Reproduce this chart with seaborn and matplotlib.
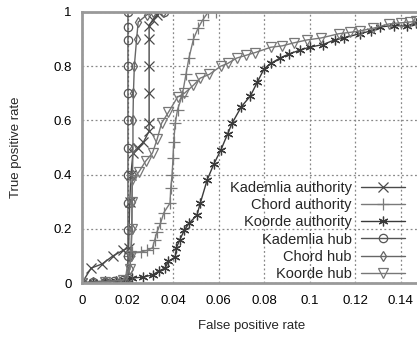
import numpy as np
import pandas as pd
import matplotlib
matplotlib.use("Agg")
import matplotlib.pyplot as plt
from matplotlib.ticker import MultipleLocator
import seaborn as sns

# data (false positive rate, true positive rate)
ka_x = [0.0, 0.004, 0.0088, 0.0136, 0.018, 0.0205, 0.021, 0.0215, 0.0224, 0.0246, 0.027, 0.0295, 0.0295,
        0.0295, 0.0295, 0.0295, 0.0295, 0.031, 0.033, 0.034]
ka_y = [0.0, 0.055, 0.07, 0.10, 0.12, 0.13, 0.30, 0.40, 0.48, 0.50, 0.52, 0.56, 0.59,
        0.70, 0.80, 0.90, 0.95, 0.97, 0.99, 1.0]

ca_x = [0.0, 0.01, 0.019, 0.0205, 0.022, 0.026, 0.0286, 0.031, 0.032, 0.033, 0.0345, 0.036, 0.0387, 0.039,
        0.0396, 0.040, 0.0403, 0.041, 0.042, 0.044, 0.0457, 0.047, 0.049, 0.051, 0.053, 0.0555, 0.059]
ca_y = [0.0, 0.003, 0.008, 0.10, 0.113, 0.115, 0.12, 0.13, 0.16, 0.19, 0.22, 0.26, 0.295, 0.35,
        0.40, 0.46, 0.52, 0.59, 0.64, 0.69, 0.77, 0.83, 0.90, 0.94, 0.97, 1.0, 1.0]

koa_x = [0.0, 0.005, 0.01, 0.015, 0.019, 0.022, 0.027, 0.031, 0.034, 0.0365, 0.038, 0.041, 0.0415, 0.043,
         0.045, 0.047, 0.0505, 0.052, 0.055, 0.058, 0.061, 0.064, 0.066, 0.070, 0.074, 0.077, 0.080, 0.083,
         0.087, 0.091, 0.096, 0.100, 0.106, 0.111, 0.115, 0.122, 0.127, 0.131, 0.137, 0.143, 0.147]
koa_y = [0.0, 0.005, 0.007, 0.008, 0.012, 0.018, 0.022, 0.03, 0.045, 0.055, 0.08, 0.096, 0.13, 0.16,
         0.195, 0.22, 0.25, 0.295, 0.38, 0.44, 0.49, 0.55, 0.59, 0.65, 0.69, 0.74, 0.79, 0.81,
         0.83, 0.845, 0.86, 0.87, 0.88, 0.897, 0.904, 0.92, 0.93, 0.945, 0.95, 0.948, 0.96]

kh_x = [0.0, 0.005, 0.01, 0.014, 0.018, 0.0202, 0.0202, 0.0202, 0.0202, 0.0202, 0.0202, 0.0202, 0.0202,
        0.0202, 0.0202, 0.0202, 0.0202, 0.036]
kh_y = [0.0, 0.003, 0.005, 0.008, 0.012, 0.02, 0.1, 0.195, 0.295, 0.40, 0.50, 0.60, 0.70,
        0.80, 0.897, 0.945, 1.0, 1.0]

ch_x = [0.0, 0.005, 0.01, 0.015, 0.019, 0.021, 0.0215, 0.0218, 0.022, 0.0222, 0.0224, 0.0224, 0.0226,
        0.023, 0.024, 0.0247, 0.0286, 0.031, 0.0356]
ch_y = [0.0, 0.003, 0.005, 0.008, 0.012, 0.05, 0.1, 0.2, 0.3, 0.4, 0.5, 0.6, 0.7,
        0.8, 0.9, 0.963, 0.99, 1.0, 1.0]

koh_x = [0.0, 0.01, 0.018, 0.021, 0.0215, 0.022, 0.022, 0.022, 0.025, 0.028, 0.031, 0.033, 0.035, 0.038,
         0.042, 0.045, 0.049, 0.052, 0.056, 0.061, 0.064, 0.068, 0.072, 0.076, 0.083, 0.088, 0.093, 0.099,
         0.105, 0.113, 0.118, 0.122, 0.128, 0.135, 0.140, 0.144, 0.147]
koh_y = [0.0, 0.005, 0.01, 0.05, 0.1, 0.2, 0.3, 0.38, 0.41, 0.45, 0.48, 0.53, 0.59, 0.63,
         0.686, 0.70, 0.73, 0.756, 0.77, 0.80, 0.81, 0.83, 0.84, 0.85, 0.87, 0.875, 0.886, 0.897,
         0.904, 0.92, 0.925, 0.93, 0.94, 0.956, 0.96, 0.963, 0.965]

labels = ["Kademlia authority", "Chord authority", "Koorde authority",
          "Kademlia hub", "Chord hub", "Koorde hub"]
xs = [ka_x, ca_x, koa_x, kh_x, ch_x, koh_x]
ys = [ka_y, ca_y, koa_y, kh_y, ch_y, koh_y]
markers = ["x", "+", (6, 2, 0), "o", "d", "v"]
msizes = [7, 8, 7, 6, 5, 7]
colors = ["#4a4a4a", "#7a7a7a", "#3a3a3a", "#555555", "#666666", "#777777"]

sns.set_style("white")
plt.rcParams['font.family'] = ['Liberation Sans', 'DejaVu Sans']

fig = plt.figure(figsize=(4.17, 3.37), dpi=100)
axw = 0.15 * 2275
ax = fig.add_axes([82/417, 54/337, axw/417, 271/337])

for lab, x, y, m, ms, c in zip(labels, xs, ys, markers, msizes, colors):
    sns.lineplot(x=x, y=y, ax=ax, sort=False, estimator=None, color=c, lw=1.0,
                 marker=m, markersize=ms, mfc='none', mec=c, mew=0.9, label=lab, legend=False)

ax.set_xlim(0, 0.15)
ax.set_ylim(0, 1)
ax.set_xticks([0, 0.02, 0.04, 0.06, 0.08, 0.1, 0.12, 0.14])
ax.set_xticklabels(["0", "0.02", "0.04", "0.06", "0.08", "0.1", "0.12", "0.14"])
ax.xaxis.set_minor_locator(MultipleLocator(0.01))
ax.set_yticks([0, 0.2, 0.4, 0.6, 0.8, 1])
ax.set_yticklabels(["0", "0.2", "0.4", "0.6", "0.8", "1"])
ax.grid(True, which="major", linestyle=(0, (1.5, 2)), color="#888888", lw=0.9)
ax.tick_params(which="major", direction="in", length=4, width=0.8, color="#888888", labelsize=9.5,
               labelcolor="black", top=False, right=False)
ax.tick_params(which="minor", direction="in", length=2, width=0.8, color="#888888", top=False)
ax.tick_params(axis="x", pad=9)
ax.tick_params(axis="y", pad=7.5)
for s in ["left", "bottom", "top", "right"]:
    ax.spines[s].set_color("#999999")
    ax.spines[s].set_linewidth(2)

ax.set_xlabel("False positive rate", fontsize=9.5)
ax.set_ylabel("True positive rate", fontsize=9.5)
ax.xaxis.set_label_coords((252 - 82) / axw, (283 - 320) / 271)
ax.yaxis.set_label_coords((16 - 82) / axw, 0.5)
ax.yaxis.label.set_verticalalignment("center")

leg = ax.legend(ax.get_lines(), labels, markerfirst=False, frameon=False, fontsize=10.5,
                handlelength=3.0, handletextpad=0.65, labelspacing=0.22,
                borderpad=0, borderaxespad=0,
                loc="lower right", bbox_to_anchor=((405 - 82) / axw, (283 - 281) / 271))

fig.savefig("out.png", dpi=100)
